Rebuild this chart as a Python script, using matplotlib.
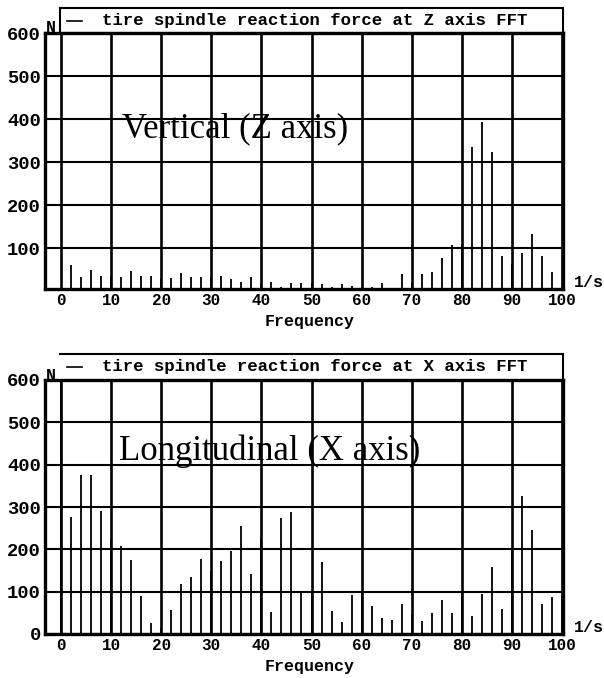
import matplotlib
matplotlib.use("Agg")
import matplotlib.pyplot as plt
from matplotlib.patches import Rectangle
from matplotlib.lines import Line2D

# ---------------- data ----------------
freq_z = [2, 4, 6, 8, 10, 12, 14, 16, 18, 20, 22, 24, 26, 28, 30, 32, 34, 36, 38, 40,
          42, 44, 46, 48, 50, 52, 54, 56, 58, 60, 62, 64, 66, 68, 70, 72, 74, 76, 78, 80,
          82, 84, 86, 88, 90, 92, 94, 96, 98]
force_z = [61, 32, 48, 36, 35, 33, 47, 36, 35, 30, 30, 42, 32, 32, 31, 36, 28, 22, 33, 20,
           22, 9, 19, 19, 20, 16, 9, 16, 11, 10, 9, 20, 8, 40, 19, 40, 44, 77, 108, 110,
           336, 392, 323, 81, 63, 89, 132, 81, 44]

freq_x = [0, 2, 4, 6, 8, 10, 12, 14, 16, 18, 20, 22, 24, 26, 28, 30, 32, 34, 36, 38, 40,
          42, 44, 46, 48, 50, 52, 54, 56, 58, 60, 62, 64, 66, 68, 70, 72, 74, 76, 78, 80,
          82, 84, 86, 88, 90, 92, 94, 96, 98, 100]
force_x = [640, 277, 376, 376, 291, 224, 208, 175, 90, 25, 15, 57, 117, 134, 177, 150, 173, 196, 254, 141, 226,
           53, 275, 289, 96, 100, 171, 55, 29, 91, 100, 67, 37, 33, 70, 47, 31, 50, 80, 50, 100,
           43, 95, 158, 59, 200, 327, 246, 70, 87, 90]

yticks_z = [100, 200, 300, 400, 500, 600]
yticks_x = [0, 100, 200, 300, 400, 500, 600]
xticks = [0, 10, 20, 30, 40, 50, 60, 70, 80, 90, 100]

legend_z = "tire spindle reaction force at Z axis FFT"
legend_x = "tire spindle reaction force at X axis FFT"
title_z = "Vertical (Z axis)"
title_x = "Longitudinal (X axis)"

# ---------------- figure ----------------
W, H = 604, 678
fig = plt.figure(figsize=(W / 100, H / 100), dpi=100)
fig.patch.set_facecolor("white")

MONO = "Liberation Mono"
SERIF = "Liberation Serif"


def px(x, y):
    return x / W, 1 - y / H


def make_panel(top, bottom, ymin, freqs, vals, yticks, legend, title, title_x, title_y,
               box_top, left_edge=True):
    left, right = 45, 563
    ax = fig.add_axes([left / W, 1 - bottom / H, (right - left) / W, (bottom - top) / H])
    ax.set_xlim(-3.2, 100.2)
    ax.set_ylim(ymin, 600)
    ax.set_xticks(xticks)
    ax.set_yticks(yticks)
    ax.set_xticklabels([str(t) for t in xticks], fontfamily=MONO, fontweight="bold", fontsize=11.5)
    ax.set_yticklabels([str(t) for t in yticks], fontfamily=MONO, fontweight="bold", fontsize=13.5)
    ax.tick_params(length=0, pad=3)
    ax.xaxis.grid(True, color="black", lw=1.9)
    ax.yaxis.grid(True, color="black", lw=1.5)
    ax.set_axisbelow(True)
    for s in ax.spines.values():
        s.set_linewidth(2.4)
        s.set_color("black")
    ax.vlines(freqs, ymin, vals, colors="black", lw=1.3, zorder=3)
    ax.text(title_x, title_y, title, transform=ax.transAxes, fontfamily=SERIF,
            fontsize=25, ha="center", va="center", zorder=4)
    # legend box above axes
    x0, y0 = px(60, top)
    x1, y1 = px(563, box_top)
    if left_edge:
        fig.add_artist(Rectangle((x0, y0), x1 - x0, y1 - y0, transform=fig.transFigure,
                                 fill=False, edgecolor="black", lw=1.5))
    else:
        fig.add_artist(Line2D([x0, x1], [y1, y1], transform=fig.transFigure, color="black", lw=1.5))
        fig.add_artist(Line2D([x1, x1], [y0, y1], transform=fig.transFigure, color="black", lw=1.5))
    ym = (top + box_top) / 2
    fig.add_artist(Line2D([px(67, 0)[0], px(82, 0)[0]], [px(0, ym)[1]] * 2,
                          transform=fig.transFigure, color="black", lw=1.2))
    fig.text(*px(102, ym), legend, fontfamily=MONO, fontweight="bold", fontsize=12.5,
             ha="left", va="center")
    fig.text(*px(51, top - 5), "N", fontfamily=MONO, fontweight="bold", fontsize=12,
             ha="center", va="center")
    fig.text(*px(589, bottom - 6), "1/s", fontfamily=MONO, fontweight="bold", fontsize=12,
             ha="center", va="center")
    fig.text(*px(310, bottom + 33), "Frequency", fontfamily=MONO, fontweight="bold",
             fontsize=12, ha="center", va="center")
    return ax


make_panel(33, 289, 5, freq_z, force_z, yticks_z, legend_z, title_z, 0.366, 0.625, 8, True)
make_panel(380, 634, 0, freq_x, force_x, yticks_x, legend_x, title_x, 0.434, 0.72, 354, False)

fig.savefig("out.png", dpi=100, facecolor="white")
